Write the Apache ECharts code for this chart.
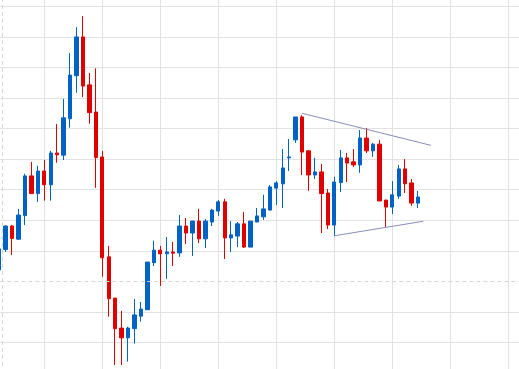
<!DOCTYPE html>
<html>
<head>
<meta charset="utf-8">
<script src="https://cdn.jsdelivr.net/npm/echarts@6/dist/echarts.min.js"></script>
<style>
html,body{margin:0;padding:0;background:#fff;overflow:hidden;width:519px;height:369px;}
#wrap{position:relative;width:519px;height:369px;overflow:hidden;}
#chart{position:absolute;left:-30px;top:-40px;width:620px;height:430px;}
</style>
</head>
<body>
<div id="wrap"><div id="chart"></div></div>
<script>
// Day index of each candle
const days = [0,1,2,3,4,5,6,7,8,9,10,11,12,13,14,15,16,17,18,19,20,21,22,23,24,25,26,27,28,29,30,31,32,33,34,35,36,37,38,39,40,41,42,43,44,45,46,47,48,49,50,51,52,53,54,55,56,57,58,59,60,61,62,63,64,65];
const openPrice = [103.7,110.4,118.1,113.8,121.5,134.5,128.7,136.1,131.6,142.0,
  141.3,153.2,167.3,180.0,164.3,155.4,140.7,108.0,94.5,84.7,
  81.5,84.5,88.6,90.7,106.1,110.2,109.0,109.6,109.3,118.1,
  115.8,119.7,113.9,119.4,123.0,126.0,114.2,114.8,118.8,111.2,
  119.4,121.1,123.3,130.5,131.9,140.4,146.3,153.8,142.7,134.8,
  135.8,128.9,118.4,132.3,140.4,139.1,138.1,146.9,142.7,144.9,
  126.6,124.3,127.9,136.8,132.2,125.6];
const closePrice = [110.6,118.1,114.0,121.7,134.5,128.7,136.1,131.6,142.0,141.4,
  153.5,167.5,180.0,163.9,155.2,140.5,107.7,94.3,84.5,81.5,
  84.7,89.0,90.9,106.3,110.2,109.0,109.6,109.2,118.1,115.8,
  119.7,113.9,119.7,123.3,126.0,114.2,115.2,118.8,111.2,119.7,
  121.4,123.7,130.9,132.2,137.1,140.7,153.8,142.3,134.8,135.8,
  128.7,118.4,132.5,140.4,138.7,138.1,146.9,142.7,144.9,126.3,
  124.3,128.3,136.8,131.9,125.6,127.6];
const lowPrice = [103.0,109.6,108.6,113.5,118.4,128.7,126.0,126.4,126.4,138.8,
  139.7,150.3,161.7,160.3,151.6,130.6,101.5,88.4,72.6,72.6,
  73.7,79.6,86.8,90.7,105.0,98.5,100.8,105.0,108.0,112.2,
  108.3,112.5,110.9,118.1,121.4,107.3,109.6,111.2,110.9,111.2,
  119.4,120.1,123.3,125.0,124.0,136.1,145.3,134.8,129.6,133.5,
  115.8,117.1,114.8,129.2,132.5,137.4,135.5,142.0,140.7,126.3,
  117.8,122.0,127.0,128.9,124.7,124.0];
const highPrice = [111.2,118.3,118.4,123.7,135.2,139.1,137.8,139.7,142.7,151.5,
  159.7,174.7,183.2,186.8,168.2,169.7,142.7,111.6,94.5,90.3,
  85.1,94.2,93.2,106.3,113.3,111.6,114.5,112.9,121.7,120.7,
  119.8,123.7,120.4,123.7,126.6,127.0,119.7,119.4,122.7,119.7,
  124.0,128.3,131.5,132.8,143.3,146.6,153.8,154.4,143.0,140.4,
  138.4,130.2,134.2,143.0,142.0,143.3,149.5,150.2,145.3,146.3,
  126.6,132.8,138.1,140.0,133.5,129.6];
// Reference lines
const refPrice = 100;
const refDay = 0.5;
// Triangle trend lines: [day, price] endpoints
const upperTrend = [[47, 155.0], [67, 144.5]];
const lowerTrend = [[52, 114.9], [65.8, 119.65]];
// Axis ranges
const xMin = -2, xMax = 88, xStep = 9;
const yMin = 70, yMax = 200, yStep = 10;

const rows = days.map((d, i) => [d, openPrice[i], closePrice[i], lowPrice[i], highPrice[i]]);

const gridColor = '#e2e2e2';
const yLineColors = [];
for (let v = yMin; v <= yMax; v += yStep) {
  yLineColors.push(v === refPrice ? 'rgba(0,0,0,0)' : gridColor);
}

const chart = echarts.init(document.getElementById('chart'), null, {renderer: 'canvas'});
chart.setOption({
  animation: false,
  backgroundColor: '#ffffff',
  grid: {left: 16.3, top: 15.8, width: 580, height: 397.15, containLabel: false},
  xAxis: {
    type: 'value', min: xMin, max: xMax, interval: xStep,
    axisLine: {show: false}, axisTick: {show: false}, axisLabel: {show: false},
    splitLine: {show: true, lineStyle: {color: gridColor, width: 1}}
  },
  yAxis: {
    type: 'value', min: yMin, max: yMax, interval: yStep,
    axisLine: {show: false}, axisTick: {show: false}, axisLabel: {show: false},
    splitLine: {show: true, lineStyle: {color: yLineColors, width: 1}}
  },
  series: [{
    type: 'candlestick',
    data: rows,
    encode: {x: 0, y: [1, 2, 3, 4]},
    barWidth: 3.8,
    clip: false,
    itemStyle: {
      color: '#0062c4', color0: '#e00000',
      borderColor: '#0062c4', borderColor0: '#e00000',
      borderWidth: 1
    },
    markLine: {
      silent: true,
      symbol: ['none', 'none'],
      label: {show: false},
      animation: false,
      data: [
        {xAxis: refDay, lineStyle: {color: '#d6d6d6', type: [4, 3], width: 1}},
        {yAxis: refPrice, lineStyle: {color: '#d6d6d6', type: [4, 3], width: 1}},
        [{coord: upperTrend[0]}, {coord: upperTrend[1]}],
        [{coord: lowerTrend[0]}, {coord: lowerTrend[1]}]
      ],
      lineStyle: {color: '#8a8db8', type: 'solid', width: 1}
    }
  }]
});
</script>
</body>
</html>
